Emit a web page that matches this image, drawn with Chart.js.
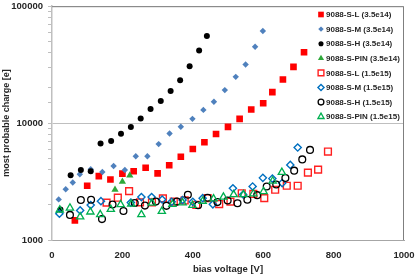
<!DOCTYPE html>
<html>
<head>
<meta charset="utf-8">
<script src="https://cdn.jsdelivr.net/npm/chart.js@4/dist/chart.umd.min.js"></script>
<style>
  html, body { margin: 0; padding: 0; background: #fff; }
  #chart { display: block; }
</style>
</head>
<body>
<canvas id="chart" width="415" height="276"></canvas>
<script>
/* most probable charge vs bias voltage, log scale */

// ─── Data ───────────────────────────────────────────────────────
const L_35_X   = [65, 100, 133, 166, 200, 232, 266, 300, 333, 366, 400, 433, 466, 500, 533, 566, 600, 626, 656, 686, 716];
const L_35_Y   = [1470, 2910, 3520, 3290, 3700, 3870, 4150, 3720, 4360, 5150, 6000, 6860, 8070, 9290, 10870, 13060, 14770, 18420, 23590, 30290, 40350];

const M_35_X   = [19, 39, 59, 79, 110, 143, 175, 207, 238, 271, 303, 334, 366, 399, 430, 460, 491, 522, 550, 577, 599];
const M_35_Y   = [2225, 2720, 3100, 3650, 4035, 3820, 4295, 3975, 5200, 5200, 6610, 8150, 9300, 10870, 12970, 15210, 19150, 24870, 31740, 44950, 61400];

const H_35_X   = [24, 53, 82, 110, 138, 168, 196, 224, 252, 280, 309, 337, 364, 391, 418, 440];
const H_35_Y   = [1820, 3575, 3970, 3865, 6680, 7040, 8120, 9250, 10960, 13220, 15450, 18850, 23280, 30590, 41800, 55700];

const PIN_35_X = [179, 200, 221];
const PIN_35_Y = [2690, 3160, 3570];

const L_15_X   = [155, 187, 219, 250, 284, 315, 346, 377, 410, 442, 475, 507, 539, 572, 603, 634, 667, 698, 727, 756, 784];
const L_15_Y   = [2090, 2300, 2620, 2100, 2100, 2270, 2130, 2180, 2000, 2280, 2030, 2130, 2510, 2480, 2280, 2690, 2910, 2910, 3770, 4000, 5710];

const M_15_X   = [21, 80, 110, 139, 224, 254, 283, 313, 340, 371, 400, 428, 457, 514, 543, 570, 599, 626, 654, 677, 698];
const M_15_Y   = [1680, 1790, 1990, 2150, 2090, 2330, 2330, 2220, 2120, 2200, 2120, 2280, 2020, 2770, 2450, 2870, 3400, 3350, 3070, 4390, 6180];

const H_15_X   = [51, 82, 111, 142, 172, 203, 235, 264, 295, 325, 355, 386, 415, 442, 470, 499, 527, 555, 583, 610, 637, 663, 688, 711, 733];
const H_15_Y   = [1640, 2200, 2210, 1510, 2010, 1770, 2070, 1970, 2130, 1960, 2130, 2440, 1980, 2300, 2110, 2180, 2060, 2210, 2420, 2870, 2980, 3390, 3920, 4890, 5900];

const PIN_15_X = [22, 51, 80, 109, 137, 167, 195, 225, 254, 284, 312, 342, 371, 399, 428, 459, 487, 516, 544, 572, 601, 627, 653];
const PIN_15_Y = [1810, 1880, 1580, 1740, 1650, 1830, 2010, 2030, 1650, 2070, 1760, 2020, 2080, 1980, 2150, 2250, 2330, 2450, 2450, 2490, 2600, 3200, 3790];

const X_MIN = 0, X_MAX = 1000, X_STEP = 200;
const Y_MIN = 1000, Y_MAX = 100000;

const FONT = '"Liberation Sans", Arial, sans-serif';
const TEXT = '#262626';
const NONE = 'rgba(0,0,0,0)';

const pts = (xs, ys) => xs.map((x, i) => ({ x, y: ys[i] }));

// ─── Series ──────────────────────────────────────────────────────
const SERIES = [
  { label: '9088-S-L (3.5e14)',   data: pts(L_35_X, L_35_Y),     pointStyle: 'rect',     pointRadius: 4.7, backgroundColor: '#ff0000', borderColor: '#ff0000', borderWidth: 0 },
  { label: '9088-S-M (3.5e14)',   data: pts(M_35_X, M_35_Y),     pointStyle: 'rectRot',  pointRadius: 3.2, backgroundColor: '#4f81bd', borderColor: '#4f81bd', borderWidth: 0 },
  { label: '9088-S-H (3.5e14)',   data: pts(H_35_X, H_35_Y),     pointStyle: 'circle',   pointRadius: 3,   backgroundColor: '#000000', borderColor: '#000000', borderWidth: 0 },
  { label: '9088-S-PIN (3.5e14)', data: pts(PIN_35_X, PIN_35_Y), pointStyle: 'triangle', pointRadius: 4.2, backgroundColor: '#2ea83a', borderColor: '#2ea83a', borderWidth: 0 },
  { label: '9088-S-L (1.5e15)',   data: pts(L_15_X, L_15_Y),     pointStyle: 'rect',     pointRadius: 4.8, backgroundColor: NONE, borderColor: '#ff2020', borderWidth: 1.4 },
  { label: '9088-S-M (1.5e15)',   data: pts(M_15_X, M_15_Y),     pointStyle: 'rectRot',  pointRadius: 3.6, backgroundColor: NONE, borderColor: '#0070c0', borderWidth: 1.4 },
  { label: '9088-S-H (1.5e15)',   data: pts(H_15_X, H_15_Y),     pointStyle: 'circle',   pointRadius: 3.4, backgroundColor: NONE, borderColor: '#000000', borderWidth: 1.3 },
  { label: '9088-S-PIN (1.5e15)', data: pts(PIN_15_X, PIN_15_Y), pointStyle: 'triangle', pointRadius: 4.2, backgroundColor: NONE, borderColor: '#00b050', borderWidth: 1.3 }
];

const isDecade = v => Math.abs(Math.log10(v) - Math.round(Math.log10(v))) < 1e-9;

// ─── Plot frame (top + right border) ─────────────────────────────
const framePlugin = {
  id: 'frame',
  beforeDatasetsDraw(chart) {
    const { ctx, chartArea: { left, top, right, bottom } } = chart;
    ctx.save();
    ctx.strokeStyle = '#7f7f7f';
    ctx.lineWidth = 1;
    ctx.beginPath();
    ctx.moveTo(left, top + 0.5);
    ctx.lineTo(right - 0.5, top + 0.5);
    ctx.lineTo(right - 0.5, bottom);
    ctx.stroke();
    ctx.restore();
  }
};

// ─── Legend inside the plot, top right ───────────────────────────
const legendPlugin = {
  id: 'insideLegend',
  afterDraw(chart) {
    const { ctx, chartArea } = chart;
    const mx = chartArea.right - 83;
    const tx = chartArea.right - 78;
    ctx.save();
    ctx.font = 'bold 8px ' + FONT;
    ctx.textBaseline = 'middle';
    ctx.textAlign = 'left';
    chart.data.datasets.forEach((ds, i) => {
      const y = chartArea.top + 8.3 + i * 14.6;
      ctx.fillStyle = ds.backgroundColor;
      ctx.strokeStyle = ds.borderColor;
      ctx.lineWidth = ds.borderWidth;
      Chart.helpers.drawPoint(ctx, {
        pointStyle: ds.pointStyle,
        radius: ds.pointRadius * 0.85,
        borderWidth: ds.borderWidth,
        rotation: 0
      }, mx, y);
      ctx.fillStyle = TEXT;
      ctx.fillText(ds.label, tx, y + 0.5);
    });
    ctx.restore();
  }
};

const ctx = document.getElementById('chart').getContext('2d');

new Chart(ctx, {
  type: 'scatter',
  data: {
    datasets: SERIES.map((s, i) => ({
      ...s,
      pointHoverRadius: s.pointRadius,
      showLine: false,
      order: SERIES.length - i   // later series drawn on top, like the original
    }))
  },
  options: {
    responsive: false,
    animation: false,
    devicePixelRatio: 1,
    layout: { padding: { top: 4, right: 11, left: 0, bottom: 0 } },
    plugins: {
      legend: { display: false },
      tooltip: { enabled: false }
    },
    scales: {
      x: {
        type: 'linear',
        min: X_MIN,
        max: X_MAX,
        afterFit(scale) {
          scale.height = 36;
          scale.paddingLeft = 0;
          scale.paddingRight = 0;
        },
        grid: { display: false, drawTicks: false },
        border: { display: true, color: '#a6a6a6', width: 1 },
        ticks: {
          stepSize: X_STEP,
          padding: 10,
          color: TEXT,
          font: { family: FONT, size: 9.5, weight: 'bold' },
          callback: v => String(v)
        },
        title: {
          display: true,
          text: 'bias voltage [V]',
          color: TEXT,
          padding: { top: 0, bottom: 1 },
          font: { family: FONT, size: 9.5, weight: 'bold' }
        }
      },
      y: {
        type: 'logarithmic',
        min: Y_MIN,
        max: Y_MAX,
        afterFit(scale) {
          scale.width = 52;
          scale.paddingTop = 0;
          scale.paddingBottom = 0;
        },
        grid: {
          color: c => (c.tick && isDecade(c.tick.value)) ? '#bfbfbf' : NONE,
          tickColor: '#bfbfbf',
          tickLength: 4,
          drawTicks: true
        },
        border: { display: true, color: '#bfbfbf', width: 1.5 },
        ticks: {
          autoSkip: false,
          padding: 5,
          color: TEXT,
          font: { family: FONT, size: 9.5, weight: 'bold' },
          callback: v => isDecade(v) ? String(v) : ''
        },
        title: {
          display: true,
          text: 'most probable charge [e]',
          color: TEXT,
          padding: { top: 1, bottom: 0 },
          font: { family: FONT, size: 9, weight: 'bold' }
        }
      }
    }
  },
  plugins: [framePlugin, legendPlugin]
});
</script>
</body>
</html>
